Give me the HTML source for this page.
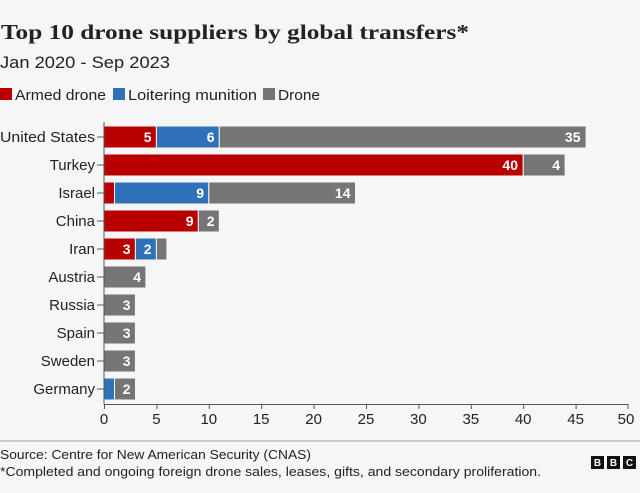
<!DOCTYPE html>
<html><head><meta charset="utf-8">
<style>
html,body{margin:0;padding:0;background:#f6f6f6;}
svg{display:block;}
text{font-family:"Liberation Sans",sans-serif;}
</style></head>
<body>
<svg width="640" height="493" viewBox="0 0 640 493" xmlns="http://www.w3.org/2000/svg">
<rect width="640" height="493" fill="#f6f6f6"/>
<text x="1" y="39" font-family="Liberation Serif, serif" font-weight="bold" font-size="21" fill="#222" textLength="468" lengthAdjust="spacingAndGlyphs" style="font-family:'Liberation Serif',serif">Top 10 drone suppliers by global transfers*</text>
<text x="0" y="68" font-size="17" fill="#222" textLength="170" lengthAdjust="spacingAndGlyphs">Jan 2020 - Sep 2023</text>
<!-- legend -->
<rect x="0" y="88" width="12" height="12" fill="#b80000"/>
<text x="15" y="100" font-size="15" fill="#222" textLength="91" lengthAdjust="spacingAndGlyphs">Armed drone</text>
<rect x="113" y="88" width="12" height="12" fill="#2f72ba"/>
<text x="128" y="100" font-size="15" fill="#222" textLength="129" lengthAdjust="spacingAndGlyphs">Loitering munition</text>
<rect x="263" y="88" width="12" height="12" fill="#757575"/>
<text x="278" y="100" font-size="15" fill="#222" textLength="42" lengthAdjust="spacingAndGlyphs">Drone</text>

<!-- bars: scale 10.48 px/unit from x=104 -->
<g stroke="#f6f6f6" stroke-width="1">
<!-- US 5,6,35 -->
<rect x="104" y="126" width="52.4" height="22" fill="#b80000"/>
<rect x="156.4" y="126" width="62.9" height="22" fill="#2f72ba"/>
<rect x="219.3" y="126" width="366.8" height="22" fill="#757575"/>
<!-- Turkey 40,0,4 -->
<rect x="104" y="154" width="419.2" height="22" fill="#b80000"/>
<rect x="523.2" y="154" width="41.9" height="22" fill="#757575"/>
<!-- Israel 1,9,14 -->
<rect x="104" y="182" width="10.5" height="22" fill="#b80000"/>
<rect x="114.5" y="182" width="94.3" height="22" fill="#2f72ba"/>
<rect x="208.8" y="182" width="146.7" height="22" fill="#757575"/>
<!-- China 9,0,2 -->
<rect x="104" y="210" width="94.3" height="22" fill="#b80000"/>
<rect x="198.3" y="210" width="21" height="22" fill="#757575"/>
<!-- Iran 3,2,1 -->
<rect x="104" y="238" width="31.4" height="22" fill="#b80000"/>
<rect x="135.4" y="238" width="21" height="22" fill="#2f72ba"/>
<rect x="156.4" y="238" width="10.5" height="22" fill="#757575"/>
<!-- Austria 4 -->
<rect x="104" y="266" width="41.9" height="22" fill="#757575"/>
<!-- Russia 3 -->
<rect x="104" y="294" width="31.4" height="22" fill="#757575"/>
<!-- Spain 3 -->
<rect x="104" y="322" width="31.4" height="22" fill="#757575"/>
<!-- Sweden 3 -->
<rect x="104" y="350" width="31.4" height="22" fill="#757575"/>
<!-- Germany 0,1,2 -->
<rect x="104" y="378" width="10.5" height="22" fill="#2f72ba"/>
<rect x="114.5" y="378" width="21" height="22" fill="#757575"/>
</g>

<!-- value labels -->
<g font-size="14" font-weight="bold" fill="#fff" text-anchor="end">
<text x="151.5" y="142">5</text>
<text x="214.5" y="142">6</text>
<text x="580.5" y="142">35</text>
<text x="518" y="170">40</text>
<text x="560" y="170">4</text>
<text x="204" y="198">9</text>
<text x="350.5" y="198">14</text>
<text x="193.5" y="226">9</text>
<text x="214.5" y="226">2</text>
<text x="130.5" y="254">3</text>
<text x="151.5" y="254">2</text>
<text x="141" y="282">4</text>
<text x="130.5" y="310">3</text>
<text x="130.5" y="338">3</text>
<text x="130.5" y="366">3</text>
<text x="130.5" y="394">2</text>
</g>

<!-- axes -->
<line x1="104" y1="122" x2="104" y2="404.5" stroke="#555" stroke-width="1"/>
<line x1="104" y1="404.5" x2="628.5" y2="404.5" stroke="#555" stroke-width="1"/>
<g stroke="#555" stroke-width="1">
<line x1="97" y1="137" x2="104" y2="137"/>
<line x1="97" y1="165" x2="104" y2="165"/>
<line x1="97" y1="193" x2="104" y2="193"/>
<line x1="97" y1="221" x2="104" y2="221"/>
<line x1="97" y1="249" x2="104" y2="249"/>
<line x1="97" y1="277" x2="104" y2="277"/>
<line x1="97" y1="305" x2="104" y2="305"/>
<line x1="97" y1="333" x2="104" y2="333"/>
<line x1="97" y1="361" x2="104" y2="361"/>
<line x1="97" y1="389" x2="104" y2="389"/>
<line x1="104.5" y1="404" x2="104.5" y2="409"/>
<line x1="156.9" y1="404" x2="156.9" y2="409"/>
<line x1="209.3" y1="404" x2="209.3" y2="409"/>
<line x1="261.7" y1="404" x2="261.7" y2="409"/>
<line x1="314.1" y1="404" x2="314.1" y2="409"/>
<line x1="366.5" y1="404" x2="366.5" y2="409"/>
<line x1="418.9" y1="404" x2="418.9" y2="409"/>
<line x1="471.3" y1="404" x2="471.3" y2="409"/>
<line x1="523.7" y1="404" x2="523.7" y2="409"/>
<line x1="576.1" y1="404" x2="576.1" y2="409"/>
<line x1="628" y1="404" x2="628" y2="409"/>
</g>
<g font-size="15" fill="#222" text-anchor="end">
<text x="95" y="142" textLength="95" lengthAdjust="spacingAndGlyphs">United States</text>
<text x="95" y="170">Turkey</text>
<text x="95" y="198">Israel</text>
<text x="95" y="226">China</text>
<text x="95" y="254">Iran</text>
<text x="95" y="282">Austria</text>
<text x="95" y="310">Russia</text>
<text x="95" y="338">Spain</text>
<text x="95" y="366">Sweden</text>
<text x="95" y="394">Germany</text>
</g>
<g font-size="15" fill="#222" text-anchor="middle">
<text x="104" y="424">0</text>
<text x="156.4" y="424">5</text>
<text x="208.8" y="424">10</text>
<text x="261.2" y="424">15</text>
<text x="313.6" y="424">20</text>
<text x="366" y="424">25</text>
<text x="418.4" y="424">30</text>
<text x="470.8" y="424">35</text>
<text x="523.2" y="424">40</text>
<text x="575.6" y="424">45</text>
<text x="626" y="424">50</text>
</g>

<!-- footer -->
<line x1="0" y1="441" x2="640" y2="441" stroke="#bbb" stroke-width="1.5"/>
<text x="0" y="459" font-size="13" fill="#222" textLength="311" lengthAdjust="spacingAndGlyphs">Source: Centre for New American Security (CNAS)</text>
<text x="0" y="476" font-size="13" fill="#222" textLength="541" lengthAdjust="spacingAndGlyphs">*Completed and ongoing foreign drone sales, leases, gifts, and secondary proliferation.</text>
<g>
<rect x="591" y="456" width="13" height="13" fill="#111"/>
<rect x="607" y="456" width="13" height="13" fill="#111"/>
<rect x="623" y="456" width="13" height="13" fill="#111"/>
<g font-size="10" font-weight="bold" fill="#fff" text-anchor="middle">
<text x="597.5" y="466">B</text>
<text x="613.5" y="466">B</text>
<text x="629.5" y="466">C</text>
</g>
</g>
</svg>
</body></html>
